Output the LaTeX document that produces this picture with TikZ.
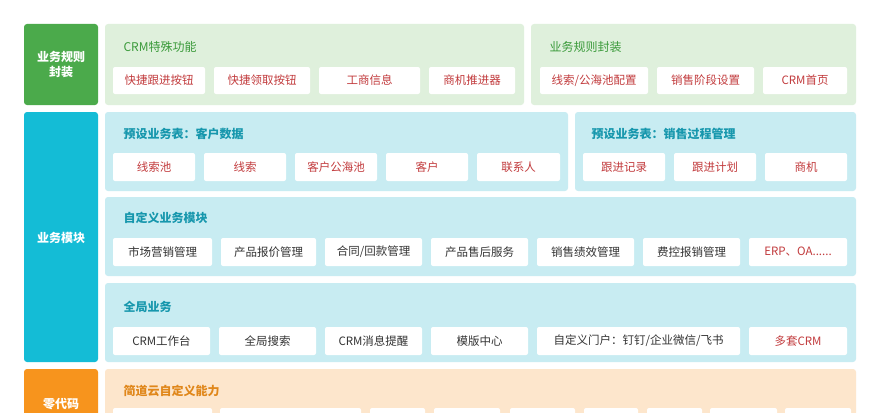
\documentclass[tikz,border=0pt]{standalone}
\usepackage{fontspec}
\setmainfont{Noto Sans CJK SC}
\definecolor{gL}{HTML}{4BAA4B}\definecolor{gP}{HTML}{DFF0DC}\definecolor{gT}{HTML}{3A9A3A}
\definecolor{cL}{HTML}{14BCD6}\definecolor{cP}{HTML}{C8ECF2}\definecolor{cT}{HTML}{1797AD}
\definecolor{oL}{HTML}{F7941D}\definecolor{oP}{HTML}{FDE6CC}\definecolor{oT}{HTML}{E0871A}
\definecolor{rT}{HTML}{C23B3D}
\begin{document}
\begin{tikzpicture}[x=1pt,y=-1pt,
  lab/.style={fill=#1,rounded corners=3pt},
  pan/.style={fill=#1,rounded corners=3pt},
  ttl/.style={anchor=west,font=\fontsize{12}{14}\selectfont,text=#1},
  ltx/.style={font=\fontsize{12}{15}\selectfont\bfseries,text=white,align=center},
  bx/.style={fill=white,rounded corners=2pt},
  bt/.style={font=\fontsize{11.5}{13}\selectfont,text=rT},
  bk/.style={font=\fontsize{11.5}{13}\selectfont,text=black!80}]
\useasboundingbox (0,0) rectangle (880,412);
\clip (0,0) rectangle (880,412);
\fill[white] (0,0) rectangle (880,412);
% box macro
\newcommand\mybox[6]{\fill[bx] (#1,#3) rectangle (#2,#4); \node[#6] (#5) at ({(#1+#2)/2},{(#3+#4)/2}) {\vphantom{Ag}};}
\newcommand\rbox[6]{\fill[bx] (#1,#3) rectangle (#2,#4); \node[#6] (#5) at ({(#1+#2)/2},{(#3+#4)/2}) {};}
% Row 1
\fill[lab=gL] (24,24) rectangle (98,105); \node[ltx] (l1) at (61,64) {业务规则\\封装};
\fill[pan=gP] (105,24) rectangle (524,105); \node[ttl=gT] (t1) at (120,47) {CRM特殊功能};
\fill[pan=gP] (531,24) rectangle (856,105); \node[ttl=gT] (t2) at (546,47) {业务规则封装};
\def\B#1#2#3#4#5#6{\fill[bx] (#1,#3) rectangle (#2,#4); \node[#6] (#5) at ({(#1+#2)/2},{(#3+#4)/2})}
\B{113}{205}{67}{94}{a1}{bt} {快捷跟进按钮};
\B{214}{310}{67}{94}{a2}{bt} {快捷领取按钮};
\B{319}{420}{67}{94}{a3}{bt} {工商信息};
\B{429}{515}{67}{94}{a4}{bt} {商机推进器};
\B{540}{648}{67}{94}{a5}{bt} {线索/公海池配置};
\B{657}{754}{67}{94}{a6}{bt} {销售阶段设置};
\B{763}{847}{67}{94}{a7}{bt} {CRM首页};
% Row 2
\fill[lab=cL] (24,112) rectangle (98,362); \node[ltx] (l2) at (61,238) {业务模块};
\fill[pan=cP] (105,112) rectangle (568,191); \node[ttl=cT] (t3) at (120,134) {\bfseries 预设业务表：客户数据};
\fill[pan=cP] (575,112) rectangle (856,191); \node[ttl=cT] (t4) at (588,134) {\bfseries 预设业务表：销售过程管理};
\B{113}{195}{153}{181}{b1}{bt} {线索池};
\B{204}{286}{153}{181}{b2}{bt} {线索};
\B{295}{377}{153}{181}{b3}{bt} {客户公海池};
\B{386}{468}{153}{181}{b4}{bt} {客户};
\B{477}{560}{153}{181}{b5}{bt} {联系人};
\B{583}{665}{153}{181}{b6}{bt} {跟进记录};
\B{674}{756}{153}{181}{b7}{bt} {跟进计划};
\B{765}{847}{153}{181}{b8}{bt} {商机};
\fill[pan=cP] (105,197) rectangle (856,276); \node[ttl=cT] (t5) at (120,218) {\bfseries 自定义业务模块};
\B{113}{212}{238}{266}{c1}{bk} {市场营销管理};
\B{221}{316}{238}{266}{c2}{bk} {产品报价管理};
\B{325}{422}{238}{266}{c3}{bk} {合同/回款管理};
\B{431}{528}{238}{266}{c4}{bk} {产品售后服务};
\B{537}{634}{238}{266}{c5}{bk} {销售绩效管理};
\B{643}{740}{238}{266}{c6}{bk} {费控报销管理};
\B{749}{847}{238}{266}{c7}{bt} {ERP、OA......};
\fill[pan=cP] (105,283) rectangle (856,362); \node[ttl=cT] (t6) at (120,307) {\bfseries 全局业务};
\B{113}{210}{327}{355}{d1}{bk} {CRM工作台};
\B{219}{316}{327}{355}{d2}{bk} {全局搜索};
\B{325}{422}{327}{355}{d3}{bk} {CRM消息提醒};
\B{431}{528}{327}{355}{d4}{bk} {模版中心};
\B{537}{740}{327}{355}{d5}{bk} {自定义门户：钉钉/企业微信/飞书};
\B{749}{847}{327}{355}{d6}{bt} {多套CRM};
% Row 3
\fill[lab=oL] (24,369) rectangle (98,440); \node[ltx] (l3) at (61,404) {零代码};
\fill[pan=oP] (105,369) rectangle (856,460); \node[ttl=oT] (t7) at (120,391) {\bfseries 简道云自定义能力};
\foreach \u/\v in {113/212,220/318,285/361,370/425,434/500,510/575,584/638,647/702,710/777,785/851}
  \fill[bx] (\u,408) rectangle (\v,440);
\end{tikzpicture}
\end{document}
